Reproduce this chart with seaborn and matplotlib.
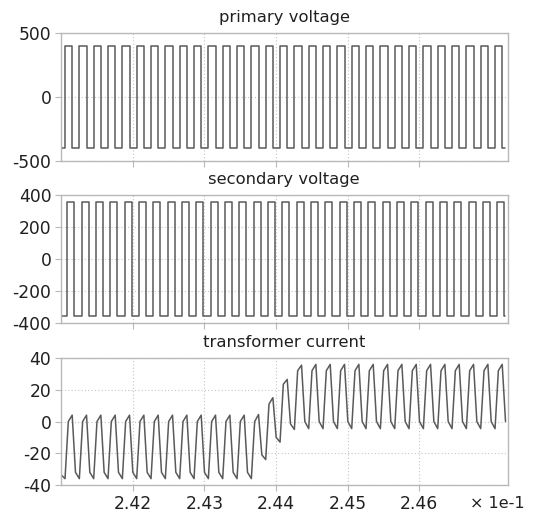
import numpy as np
import pandas as pd
import matplotlib
matplotlib.use("Agg")
import matplotlib.pyplot as plt
import seaborn as sns

# time axis is in units of 1e-1 s (as shown on the axis)
t_start = 2.41
t_end = 2.4720
first_rise = 2.41056
period = 0.002
n_cycles = 31

primary_level = 400
secondary_level = 355
secondary_lag = 0.0003
current_steep = 0.00046  # duration of the steep current slopes

# transformer current, one entry per switching cycle
# value at primary rise, after steep rise, at primary fall, after steep fall
cur_trough = [-36] * 14 + [-24, -13, -5] + [-4.5] * 14
cur_after_rise = [0] * 14 + [11, 23.5, 32] + [32] * 14
cur_peak = [4] * 13 + [4.4, 15, 26.5, 35.5] + [36] * 14
cur_after_fall = [-32] * 13 + [-21, -10, -1.5, 0] + [0] * 14
cur_first = -33.5

y_ticks_primary = [-500, 0, 500]
y_ticks_secondary = [-400, -200, 0, 200, 400]
y_ticks_current = [-40, -20, 0, 20, 40]
x_ticks = [2.42, 2.43, 2.44, 2.45, 2.46]


def square_wave(level, lag):
    ts, vs = [t_start], [-level]
    for k in range(n_cycles):
        r = first_rise + k * period + lag
        f = r + period / 2
        ts += [r, r, f, f]
        vs += [-level, level, level, -level]
    ts.append(t_end)
    vs.append(-level)
    return pd.DataFrame({"t": ts, "v": vs})


def current_wave():
    ts, vs = [t_start], [cur_first]
    for k in range(n_cycles):
        r = first_rise + k * period
        f = r + period / 2
        ts += [r, r + current_steep, f, f + current_steep]
        vs += [cur_trough[k], cur_after_rise[k], cur_peak[k], cur_after_fall[k]]
    return pd.DataFrame({"t": ts, "v": vs})


sns.set_style("white")
plt.rcParams["font.family"] = ["DejaVu Sans"]
plt.rcParams["axes.unicode_minus"] = False

fig = plt.figure(figsize=(5.37, 5.19), dpi=100)
left, width = 0.1136, 0.8315
panels = [
    ("primary voltage", square_wave(primary_level, 0.0), 0.6898, 0.2466,
     (-500, 500), y_ticks_primary),
    ("secondary voltage", square_wave(secondary_level, secondary_lag), 0.3776, 0.2466,
     (-400, 400), y_ticks_secondary),
    ("transformer current", current_wave(), 0.0655, 0.2447,
     (-40, 40), y_ticks_current),
]

line_color = "#5a5a5a"
frame_color = "#b8b8b8"
text_color = "#202020"

for i, (title, df, bottom, height, ylim, yticks) in enumerate(panels):
    ax = fig.add_axes([left, bottom, width, height])
    sns.lineplot(data=df, x="t", y="v", estimator=None, sort=False,
                 color=line_color, linewidth=1.1, ax=ax)
    ax.set_xlim(t_start, 2.4723)
    ax.set_ylim(*ylim)
    ax.set_yticks(yticks)
    ax.set_xticks(x_ticks)
    ax.set_xlabel("")
    ax.set_ylabel("")
    ax.set_title(title, fontsize=11.8, color=text_color, pad=8)
    ax.grid(True, linestyle=(0, (1, 2)), color="#c4c4c4", linewidth=0.8)
    for s in ax.spines.values():
        s.set_color(frame_color)
        s.set_linewidth(1.0)
    ax.tick_params(axis="both", direction="out", length=4, width=0.8,
                   color=frame_color, labelsize=12.3, labelcolor=text_color,
                   left=True, bottom=True, pad=3)
    if i < 2:
        ax.set_xticklabels([])
    else:
        ax.set_xticklabels([f"{v:.2f}" for v in x_ticks])

fig.text(0.977, 0.029, "× 1e-1", ha="right", va="center", fontsize=11.5, color=text_color)

fig.savefig("out.png", dpi=100)
